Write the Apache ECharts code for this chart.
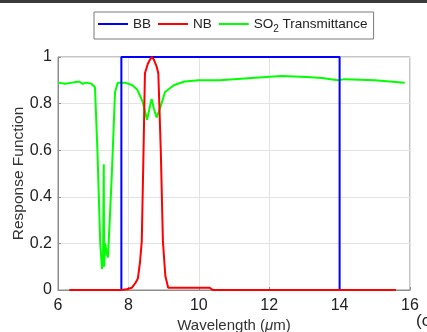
<!DOCTYPE html>
<html>
<head>
<meta charset="utf-8">
<script src="https://cdn.jsdelivr.net/npm/echarts@6/dist/echarts.min.js"></script>
<style>
  html, body { margin: 0; padding: 0; background: #fff; }
  #chart { width: 427px; height: 332px; }
</style>
</head>
<body>
<div id="chart"></div>
<script>
// wavelength (um) / response values
const bbX = [7.8, 7.8, 14, 14];
const bbY = [0, 1, 1, 0];

const nbX = [6.32, 7.8, 7.95, 8.1, 8.2, 8.27, 8.33, 8.38, 8.43, 8.47, 8.55, 8.62, 8.66, 8.72, 8.8, 8.85, 8.92, 8.98, 9.05, 9.13, 9.5, 10.3, 10.4, 15.6];
const nbY = [0, 0, 0.003, 0.01, 0.03, 0.05, 0.12, 0.21, 0.6, 0.93, 0.97, 0.99, 1, 0.99, 0.96, 0.93, 0.6, 0.21, 0.06, 0.01, 0.01, 0.01, 0, 0];

const so2X = [6.0, 6.2, 6.4, 6.6, 6.7, 6.8, 6.95, 7.05, 7.12, 7.2, 7.25, 7.28, 7.3, 7.31, 7.34, 7.38, 7.42, 7.47, 7.53, 7.62, 7.7, 7.9, 8.1, 8.25, 8.4, 8.5, 8.53, 8.6, 8.66, 8.72, 8.8, 8.9, 9.04, 9.3, 9.6, 10, 10.6, 11.5, 12.35, 13.07, 13.5, 13.95, 14.15, 15, 15.85];
const so2Y = [0.89, 0.885, 0.89, 0.895, 0.885, 0.89, 0.885, 0.87, 0.6, 0.2, 0.09, 0.12, 0.54, 0.1, 0.2, 0.16, 0.14, 0.3, 0.5, 0.85, 0.89, 0.89, 0.88, 0.86, 0.81, 0.75, 0.73, 0.78, 0.82, 0.78, 0.74, 0.78, 0.85, 0.88, 0.895, 0.9, 0.9, 0.91, 0.918, 0.914, 0.91, 0.9, 0.905, 0.9, 0.89];

const pairs = (xs, ys) => xs.map((x, i) => [x, ys[i]]);

const chart = echarts.init(document.getElementById('chart'));
const font = 'Liberation Sans, Arial, sans-serif';

chart.setOption({
  animation: false,
  textStyle: { fontFamily: font },
  grid: {
    left: 58, right: 17, top: 57, bottom: 42,
    outerBoundsMode: 'none',
    show: true, borderColor: '#8c8c8c', borderWidth: 1
  },
  legend: {
    left: 94, top: 12,
    padding: [5, 6, 5, 4],
    borderColor: '#7a7a7a', borderWidth: 1,
    icon: 'rect', itemWidth: 30, itemHeight: 2, itemGap: 7,
    textStyle: {
      fontSize: 13.5, color: '#222',
      rich: {
        a: { fontSize: 13.5, color: '#222', fontFamily: font },
        s: { fontSize: 10, color: '#222', fontFamily: font, padding: [10, 0, 0, 0] }
      }
    },
    formatter: name => name === 'SO2' ? '{a|SO}{s|2}{a| Transmittance}' : name,
    data: ['BB', 'NB', 'SO2']
  },
  xAxis: {
    type: 'value', min: 6, max: 16, interval: 2,
    name: 'Wavelength ({i|μ}m)', nameLocation: 'middle', nameGap: 28, nameMoveOverlap: false,
    nameTextStyle: { fontSize: 15, color: '#333', rich: { i: { fontStyle: 'italic', fontSize: 15, color: '#333' } } },
    axisLine: { show: true, lineStyle: { color: '#8c8c8c' } },
    axisTick: { inside: true, length: 3, lineStyle: { color: '#8c8c8c' } },
    axisLabel: { fontSize: 16, color: '#222', margin: 8 },
    splitLine: { show: true, lineStyle: { color: '#e3e3e3' } }
  },
  yAxis: {
    type: 'value', min: 0, max: 1, interval: 0.2,
    name: 'Response Function', nameLocation: 'middle', nameGap: 31, nameMoveOverlap: false,
    nameTextStyle: { fontSize: 15.5, color: '#333' },
    axisLine: { show: true, lineStyle: { color: '#8c8c8c' } },
    axisTick: { inside: true, length: 3, lineStyle: { color: '#8c8c8c' } },
    axisLabel: { fontSize: 16, color: '#222', margin: 6 },
    splitLine: { show: true, lineStyle: { color: '#e3e3e3' } }
  },
  graphic: [
    { type: 'rect', left: 0, top: 0, shape: { width: 427, height: 3 }, style: { fill: '#3a3a3a' } },
    { type: 'text', left: 416, top: 313, style: { text: '(c)', fontSize: 17, fill: '#222', fontFamily: font } }
  ],
  series: [
    { name: 'BB', type: 'line', symbol: 'none', data: pairs(bbX, bbY), lineStyle: { color: '#0000ff', width: 2 }, itemStyle: { color: '#0000ff' }, z: 3 },
    { name: 'NB', type: 'line', symbol: 'none', data: pairs(nbX, nbY), lineStyle: { color: '#ff0000', width: 2 }, itemStyle: { color: '#ff0000' }, z: 4 },
    { name: 'SO2', type: 'line', symbol: 'none', data: pairs(so2X, so2Y), lineStyle: { color: '#00ff00', width: 2 }, itemStyle: { color: '#00ff00' }, z: 2 }
  ]
});
</script>
</body>
</html>
